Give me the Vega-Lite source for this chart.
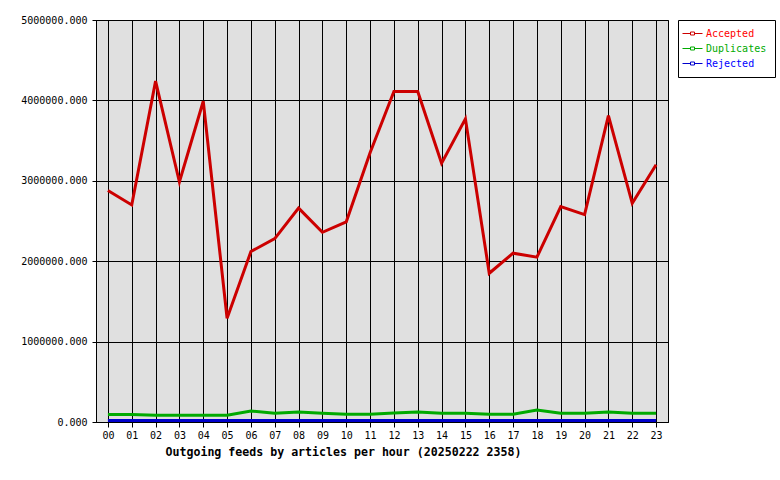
{
  "$schema": "https://vega.github.io/schema/vega-lite/v6.json",
  "autosize": "none",
  "width": 572,
  "height": 402,
  "padding": {"left": 96, "top": 20, "right": 112, "bottom": 58},
  "background": "white",
  "data": {
    "values": [
      {"hour": "00", "series": "Accepted", "value": 2880000},
      {"hour": "01", "series": "Accepted", "value": 2700000},
      {"hour": "02", "series": "Accepted", "value": 4240000},
      {"hour": "03", "series": "Accepted", "value": 2985000},
      {"hour": "04", "series": "Accepted", "value": 3990000},
      {"hour": "05", "series": "Accepted", "value": 1290000},
      {"hour": "06", "series": "Accepted", "value": 2120000},
      {"hour": "07", "series": "Accepted", "value": 2280000},
      {"hour": "08", "series": "Accepted", "value": 2660000},
      {"hour": "09", "series": "Accepted", "value": 2360000},
      {"hour": "10", "series": "Accepted", "value": 2490000},
      {"hour": "11", "series": "Accepted", "value": 3350000},
      {"hour": "12", "series": "Accepted", "value": 4110000},
      {"hour": "13", "series": "Accepted", "value": 4110000},
      {"hour": "14", "series": "Accepted", "value": 3220000},
      {"hour": "15", "series": "Accepted", "value": 3770000},
      {"hour": "16", "series": "Accepted", "value": 1850000},
      {"hour": "17", "series": "Accepted", "value": 2100000},
      {"hour": "18", "series": "Accepted", "value": 2050000},
      {"hour": "19", "series": "Accepted", "value": 2680000},
      {"hour": "20", "series": "Accepted", "value": 2580000},
      {"hour": "21", "series": "Accepted", "value": 3810000},
      {"hour": "22", "series": "Accepted", "value": 2720000},
      {"hour": "23", "series": "Accepted", "value": 3200000},
      {"hour": "00", "series": "Duplicates", "value": 92000},
      {"hour": "01", "series": "Duplicates", "value": 92000},
      {"hour": "02", "series": "Duplicates", "value": 83000},
      {"hour": "03", "series": "Duplicates", "value": 83000},
      {"hour": "04", "series": "Duplicates", "value": 83000},
      {"hour": "05", "series": "Duplicates", "value": 83000},
      {"hour": "06", "series": "Duplicates", "value": 137000},
      {"hour": "07", "series": "Duplicates", "value": 108000},
      {"hour": "08", "series": "Duplicates", "value": 124000},
      {"hour": "09", "series": "Duplicates", "value": 108000},
      {"hour": "10", "series": "Duplicates", "value": 96000},
      {"hour": "11", "series": "Duplicates", "value": 96000},
      {"hour": "12", "series": "Duplicates", "value": 112000},
      {"hour": "13", "series": "Duplicates", "value": 124000},
      {"hour": "14", "series": "Duplicates", "value": 108000},
      {"hour": "15", "series": "Duplicates", "value": 108000},
      {"hour": "16", "series": "Duplicates", "value": 96000},
      {"hour": "17", "series": "Duplicates", "value": 96000},
      {"hour": "18", "series": "Duplicates", "value": 149000},
      {"hour": "19", "series": "Duplicates", "value": 108000},
      {"hour": "20", "series": "Duplicates", "value": 108000},
      {"hour": "21", "series": "Duplicates", "value": 124000},
      {"hour": "22", "series": "Duplicates", "value": 108000},
      {"hour": "23", "series": "Duplicates", "value": 108000},
      {"hour": "00", "series": "Rejected", "value": 18000},
      {"hour": "01", "series": "Rejected", "value": 18000},
      {"hour": "02", "series": "Rejected", "value": 18000},
      {"hour": "03", "series": "Rejected", "value": 18000},
      {"hour": "04", "series": "Rejected", "value": 18000},
      {"hour": "05", "series": "Rejected", "value": 18000},
      {"hour": "06", "series": "Rejected", "value": 18000},
      {"hour": "07", "series": "Rejected", "value": 18000},
      {"hour": "08", "series": "Rejected", "value": 18000},
      {"hour": "09", "series": "Rejected", "value": 18000},
      {"hour": "10", "series": "Rejected", "value": 18000},
      {"hour": "11", "series": "Rejected", "value": 18000},
      {"hour": "12", "series": "Rejected", "value": 18000},
      {"hour": "13", "series": "Rejected", "value": 18000},
      {"hour": "14", "series": "Rejected", "value": 18000},
      {"hour": "15", "series": "Rejected", "value": 18000},
      {"hour": "16", "series": "Rejected", "value": 18000},
      {"hour": "17", "series": "Rejected", "value": 18000},
      {"hour": "18", "series": "Rejected", "value": 18000},
      {"hour": "19", "series": "Rejected", "value": 18000},
      {"hour": "20", "series": "Rejected", "value": 18000},
      {"hour": "21", "series": "Rejected", "value": 18000},
      {"hour": "22", "series": "Rejected", "value": 18000},
      {"hour": "23", "series": "Rejected", "value": 18000}
    ]
  },
  "mark": {"type": "line", "strokeWidth": 3, "strokeJoin": "miter", "interpolate": "linear"},
  "encoding": {
    "x": {
      "field": "hour",
      "type": "ordinal",
      "scale": {"type": "point", "padding": 0.5},
      "axis": {
        "title": "Outgoing feeds by articles per hour (20250222 2358)",
        "titleFont": "DejaVu Sans Mono",
        "titleFontWeight": "bold",
        "titleFontSize": 11.6,
        "titleColor": "black",
        "titleX": 69,
        "titleY": 30,
        "titleAlign": "left",
        "titleBaseline": "middle",
        "labelFont": "DejaVu Sans Mono",
        "labelFontSize": 10,
        "labelColor": "black",
        "labelAngle": 0,
        "labelPadding": 3,
        "tickSize": 5,
        "tickColor": "black",
        "domainColor": "black",
        "grid": true,
        "gridColor": "black",
        "gridOpacity": 1,
        "gridWidth": 1
      }
    },
    "y": {
      "field": "value",
      "type": "quantitative",
      "scale": {"domain": [0, 5000000], "nice": false},
      "axis": {
        "title": null,
        "values": [0, 1000000, 2000000, 3000000, 4000000, 5000000],
        "format": ".3f",
        "labelFont": "DejaVu Sans Mono",
        "labelFontSize": 10,
        "labelColor": "black",
        "labelPadding": 5,
        "tickSize": 4,
        "tickColor": "black",
        "domainColor": "black",
        "grid": true,
        "gridColor": "black",
        "gridOpacity": 1,
        "gridWidth": 1
      }
    },
    "color": {
      "field": "series",
      "type": "nominal",
      "scale": {"domain": ["Accepted", "Duplicates", "Rejected"], "range": ["#cc0000", "#00aa00", "#0000cc"]},
      "legend": {
        "title": null,
        "orient": "none",
        "legendX": 582,
        "legendY": 0,
        "padding": 8,
        "strokeColor": "black",
        "fillColor": "white",
        "labelFont": "DejaVu Sans Mono",
        "labelFontSize": 10,
        "labelOffset": 9,
        "rowPadding": 4,
        "symbolType": "M-1.8,0H-0.2M0.6,0H2.2M-0.2,-0.3H0.6V0.3H-0.2Z",
        "symbolSize": 100,
        "symbolStrokeWidth": 1,
        "symbolFillColor": "transparent",
        "encode": {
          "labels": {
            "update": {
              "fill": {"signal": "datum.value === 'Accepted' ? '#ff0000' : datum.value === 'Duplicates' ? '#00aa00' : '#0000ff'"}
            }
          }
        }
      }
    }
  },
  "config": {
    "view": {"fill": "#e0e0e0", "stroke": "black", "strokeWidth": 1},
    "font": "DejaVu Sans Mono"
  }
}
